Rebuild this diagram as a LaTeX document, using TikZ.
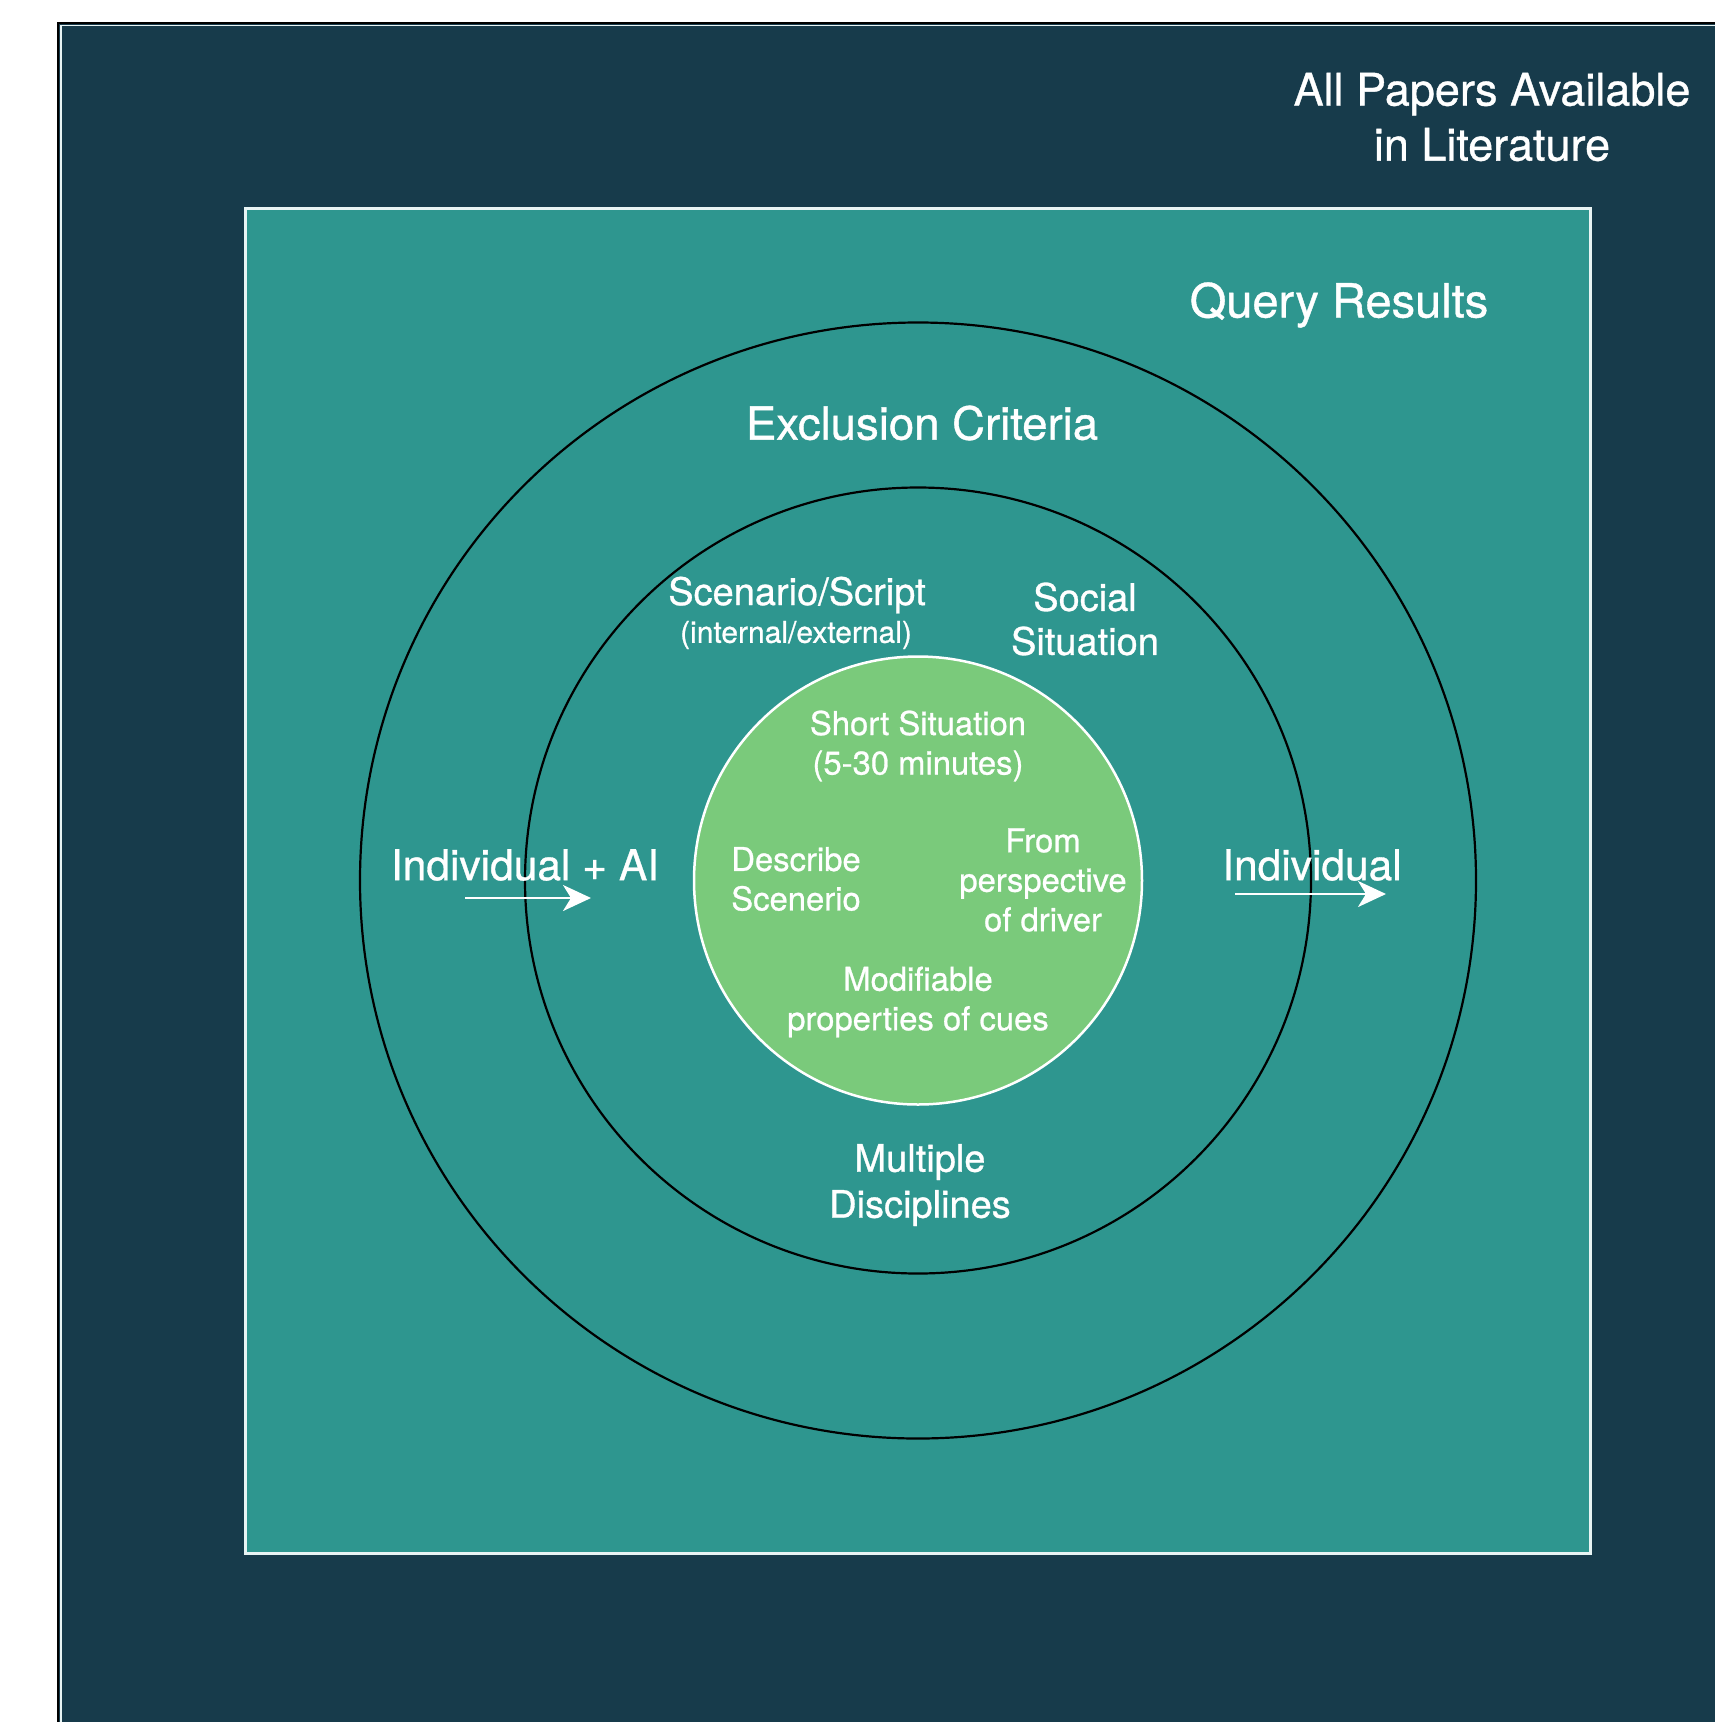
\documentclass[tikz,border=0pt]{standalone}
\usepackage{fontspec}
\setmainfont{TeX Gyre Heros}[FakeBold=0.8]
\usetikzlibrary{arrows.meta}
\definecolor{navy}{RGB}{23,59,75}
\definecolor{tealbox}{RGB}{46,150,143}
\definecolor{leaf}{RGB}{122,202,123}
\definecolor{edgewhite}{RGB}{232,244,244}
\begin{document}
\begin{tikzpicture}[x=1pt,y=-1pt,
  lbl/.style={text=white, align=center, inner sep=0pt},
  ring/.style={circle, draw=black, line width=2.2pt, inner sep=0pt},
  flow/.style={draw=white, line width=2.5pt, -{Stealth[length=28pt,width=26pt,inset=8pt]}}]
\useasboundingbox (0,0) rectangle (1715,1722);
% outer dark area
\fill[navy] (59,24) rectangle (1720,1730);
\draw[black, line width=2.5pt] (58,1730) -- (58,23) -- (1720,23);
\draw[edgewhite, line width=1.8pt] (61,1730) -- (61,25.5) -- (1720,25.5);
% query results square
\node[draw=edgewhite, line width=3pt, fill=tealbox, minimum size=1345pt, inner sep=0pt] (query) at (917.5,880.5) {};
% rings
\node[ring, minimum size=1116pt] (excl) at (918,880.5) {};
\node[ring, minimum size=786pt] (mid) at (918,880.5) {};
\node[circle, draw=white, fill=leaf, line width=2.5pt, inner sep=0pt, minimum size=448pt] (core) at (918,880.5) {};
% titles
\node[lbl, font=\fontsize{45}{55}\selectfont] (allpapers) at (1492,117) {All Papers Available\\in Literature};
\node[lbl, font=\fontsize{47}{55}\selectfont] (qres) at (1339,305) {Query Results};
\node[lbl, font=\fontsize{45.5}{55}\selectfont] (exc) at (922,423) {Exclusion Criteria};
% middle ring labels
\node[lbl, font=\fontsize{38}{44}\selectfont] (scen) at (797,595) {Scenario/Script};
\node[lbl, font=\fontsize{30}{36}\selectfont] (intext) at (796,635) {(internal/external)};
\node[lbl, font=\fontsize{38}{44}\selectfont] (social) at (1085,619) {Social\\Situation};
\node[lbl, font=\fontsize{38}{46}\selectfont] (multi) at (920,1185) {Multiple\\Disciplines};
\node[lbl, font=\fontsize{42.5}{50}\selectfont] (indai) at (525,865) {Individual + AI};
\node[lbl, font=\fontsize{42.5}{50}\selectfont] (ind) at (1312,865) {Individual};
% inner labels
\node[lbl, font=\fontsize{32.8}{39.5}\selectfont] (short) at (918,746) {Short Situation\\(5-30 minutes)};
\node[lbl, font=\fontsize{32.8}{39.5}\selectfont] (desc) at (796,879) {Describe\\Scenerio};
\node[lbl, font=\fontsize{32.8}{39.5}\selectfont] (persp) at (1043,880) {From\\perspective\\of driver};
\node[lbl, font=\fontsize{32.8}{39.5}\selectfont] (modif) at (918,1002) {Modifiable\\properties of cues};
% arrows
\coordinate (a1s) at (465,898);
\coordinate (a1e) at (591,898);
\coordinate (a2s) at (1235,894);
\coordinate (a2e) at (1386,894);
\draw[flow] (a1s) -- (a1e);
\draw[flow] (a2s) -- (a2e);
\end{tikzpicture}
\end{document}
